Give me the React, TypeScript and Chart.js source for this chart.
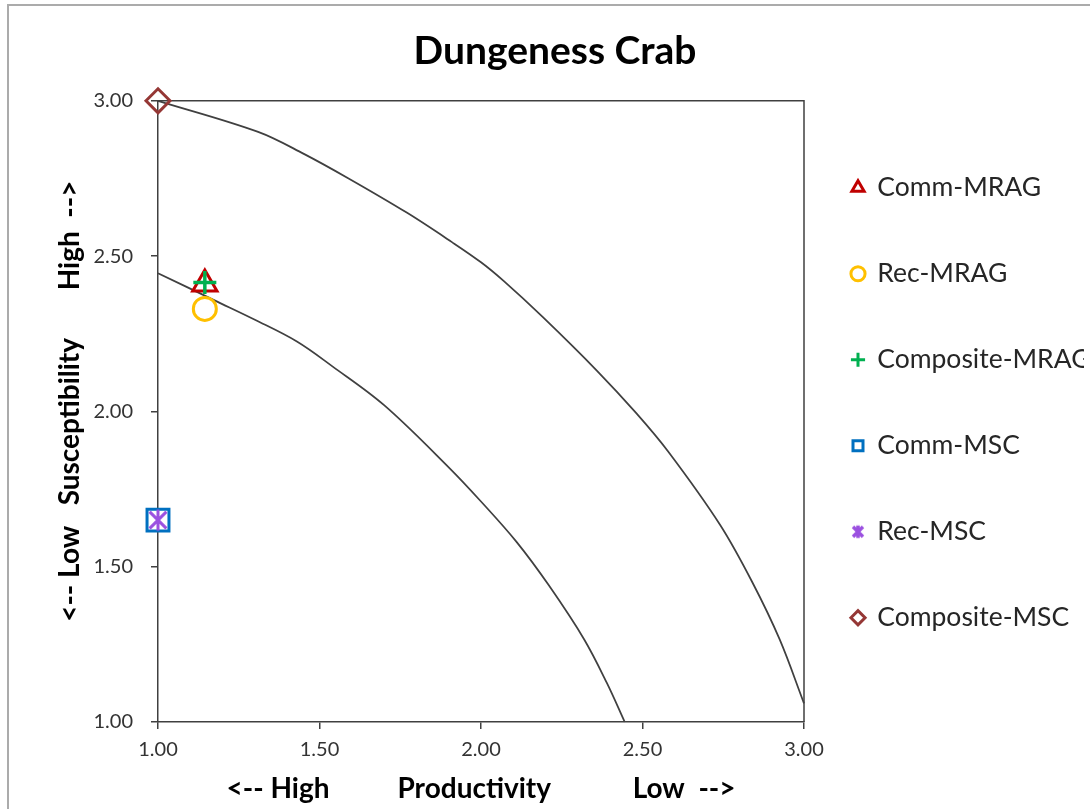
import React, { useEffect, useRef } from 'react';
import { Chart, registerables } from 'chart.js';

Chart.register(...registerables);

const chartTitle = 'Dungeness Crab';
const xAxisTitle = '<-- High' + ' '.repeat(10) + 'Productivity' + ' '.repeat(12) + 'Low  -->';
const yAxisTitle = '   <-- Low' + ' '.repeat(3) + 'Susceptibility' + ' '.repeat(7) + 'High  -->';

const seriesNames = ['Comm-MRAG', 'Rec-MRAG', 'Composite-MRAG', 'Comm-MSC', 'Rec-MSC', 'Composite-MSC'];
const seriesProductivity = [1.145, 1.145, 1.145, 1.0, 1.0, 1.0];
const seriesSusceptibility = [2.41, 2.33, 2.415, 1.65, 1.65, 3.0];
const seriesColors = ['#C00000', '#FFC000', '#00B050', '#0070C0', '#9B50E0', '#953735'];
const seriesMarkers = ['triangle', 'circle', 'cross', 'rect', 'asterisk', 'rectRot'];
const seriesMarkerRadius = [14, 11.5, 11.5, 15.5, 12, 12];
const seriesMarkerBorder = [3, 3, 3.5, 3, 3, 3];

const upperCurveProductivity = [1.0, 1.31, 1.45, 1.59, 1.77, 1.91, 2.0, 2.07, 2.19, 2.36, 2.48, 2.58, 2.74, 2.84, 2.925, 3.0];
const upperCurveSusceptibility = [3.0, 2.9, 2.83, 2.75, 2.64, 2.545, 2.48, 2.42, 2.305, 2.13, 1.995, 1.87, 1.635, 1.45, 1.265, 1.06];
const lowerCurveProductivity = [1.0, 1.18, 1.3, 1.43, 1.54, 1.7, 1.9, 2.0, 2.11, 2.21, 2.32, 2.39, 2.445];
const lowerCurveSusceptibility = [2.445, 2.355, 2.295, 2.225, 2.145, 2.02, 1.82, 1.71, 1.58, 1.44, 1.265, 1.125, 1.0];

const axisTickValues = [1.0, 1.5, 2.0, 2.5, 3.0];

const FONT = 'Lato, "Open Sans", sans-serif';
const CANVAS_W = 1100;
const CANVAS_H = 817;

function makeAsterisk(size: number, lw: number, color: string) {
  const c = document.createElement('canvas');
  c.width = size;
  c.height = size;
  const ctx = c.getContext('2d')!;
  ctx.strokeStyle = color;
  ctx.lineWidth = lw;
  const m = size / 2;
  const r = size / 2 - lw / 2;
  const d = r * 0.8;
  ctx.beginPath();
  ctx.moveTo(m - d, m - d);
  ctx.lineTo(m + d, m + d);
  ctx.moveTo(m + d, m - d);
  ctx.lineTo(m - d, m + d);
  ctx.moveTo(m, m - r);
  ctx.lineTo(m, m + r);
  ctx.stroke();
  return c;
}

const framePlugin = {
  id: 'plotFrame',
  beforeDatasetsDraw(chart: any) {
    const { ctx, chartArea: a } = chart;
    ctx.save();
    ctx.strokeStyle = '#404040';
    ctx.lineWidth = 1.5;
    ctx.beginPath();
    ctx.moveTo(a.left, a.top);
    ctx.lineTo(a.right, a.top);
    ctx.lineTo(a.right, a.bottom);
    ctx.stroke();
    ctx.restore();
  },
};

export default function App() {
  const ref = useRef<HTMLCanvasElement>(null);

  useEffect(() => {
    const canvas = ref.current!;
    const asteriskBig = makeAsterisk(24, 3, seriesColors[4]);
    const asteriskSmall = makeAsterisk(16, 3.5, seriesColors[4]);

    const markerDatasets = seriesNames.map((name, i) => ({
      label: name,
      data: [{ x: seriesProductivity[i], y: seriesSusceptibility[i] }],
      pointStyle: seriesMarkers[i] === 'asterisk' ? asteriskBig : seriesMarkers[i],
      pointRadius: seriesMarkerRadius[i],
      pointHoverRadius: seriesMarkerRadius[i],
      pointBorderWidth: seriesMarkerBorder[i],
      pointBorderColor: seriesColors[i],
      pointBackgroundColor: 'rgba(0,0,0,0)',
      borderColor: seriesColors[i],
      backgroundColor: 'rgba(0,0,0,0)',
      borderWidth: seriesMarkerBorder[i],
      showLine: false,
      clip: false,
      order: 10 - i,
    }));

    const curve = (xs: number[], ys: number[], label: string) => ({
      label,
      data: xs.map((x, k) => ({ x, y: ys[k] })),
      showLine: true,
      borderColor: '#404040',
      borderWidth: 1.75,
      pointRadius: 0,
      pointHoverRadius: 0,
      fill: false,
      tension: 0.35,
      clip: false,
      order: 20,
    });

    const chart = new Chart(canvas, {
      type: 'scatter',
      data: {
        datasets: [
          ...markerDatasets,
          curve(upperCurveProductivity, upperCurveSusceptibility, 'upper'),
          curve(lowerCurveProductivity, lowerCurveSusceptibility, 'lower'),
        ] as any,
      },
      options: {
        animation: false,
        responsive: false,
        devicePixelRatio: 1,
        events: [],
        layout: { padding: { left: 26, right: 16, top: 0, bottom: 0 } },
        plugins: {
          tooltip: { enabled: false },
          title: {
            display: true,
            text: chartTitle,
            color: '#000',
            font: { family: FONT, size: 39, weight: 'bold' },
            padding: { top: 28, bottom: 26 },
          },
          legend: {
            position: 'right',
            align: 'center',
            maxWidth: 280,
            labels: {
              usePointStyle: true,
              boxWidth: 12,
              boxHeight: 10,
              padding: 48,
              color: '#262626',
              font: { family: FONT, size: 26.5, lineHeight: '38px' },
              filter: (item: any) => item.datasetIndex < seriesNames.length,
              sort: (a: any, b: any) => a.datasetIndex - b.datasetIndex,
              generateLabels: (ch: any) => {
                const items = (Chart.defaults.plugins.legend.labels as any).generateLabels(ch);
                return items.map((it: any) => ({
                  ...it,
                  text: [it.text],
                  lineWidth: 3,
                  pointStyle: it.datasetIndex === 4 ? asteriskSmall : it.pointStyle,
                }));
              },
            },
          },
        },
        scales: {
          x: {
            type: 'linear',
            min: 1,
            max: 3,
            afterBuildTicks: (s: any) => {
              s.ticks = axisTickValues.map((v) => ({ value: v }));
            },
            afterFit: (s: any) => {
              s.height = 95;
            },
            ticks: {
              callback: (v: any) => Number(v).toFixed(2),
              color: '#333333',
              font: { family: FONT, size: 20 },
              padding: 9,
              maxRotation: 0,
              autoSkip: false,
            },
            grid: { display: true, drawOnChartArea: false, drawTicks: true, tickLength: 7, color: '#404040', lineWidth: 1.5 },
            border: { display: true, color: '#404040', width: 1.5 },
            title: {
              display: true,
              text: xAxisTitle,
              color: '#000',
              font: { family: FONT, size: 28, weight: 'bold' },
              padding: { top: 0, bottom: 11 },
            },
          },
          y: {
            type: 'linear',
            min: 1,
            max: 3,
            afterBuildTicks: (s: any) => {
              s.ticks = axisTickValues.map((v) => ({ value: v }));
            },
            afterFit: (s: any) => {
              s.width = 132;
            },
            ticks: {
              callback: (v: any) => Number(v).toFixed(2),
              color: '#333333',
              font: { family: FONT, size: 20 },
              padding: 18,
              autoSkip: false,
            },
            grid: { display: true, drawOnChartArea: false, drawTicks: true, tickLength: 7, color: '#404040', lineWidth: 1.5 },
            border: { display: true, color: '#404040', width: 1.5 },
            title: {
              display: true,
              text: yAxisTitle,
              color: '#000',
              font: { family: FONT, size: 28, weight: 'bold' },
              padding: { top: 27, bottom: 0 },
            },
          },
        },
      } as any,
      plugins: [framePlugin],
    });

    return () => chart.destroy();
  }, []);

  return (
    <div
      style={{
        position: 'fixed',
        left: 0,
        top: 0,
        width: 1090,
        height: 809,
        overflow: 'hidden',
        background: '#fff',
      }}
    >
      <div
        style={{
          position: 'absolute',
          left: 7,
          top: 4,
          width: 1300,
          height: 1000,
          border: '2px solid #ababab',
          boxSizing: 'border-box',
        }}
      />
      <canvas
        ref={ref}
        width={CANVAS_W}
        height={CANVAS_H}
        style={{ position: 'absolute', left: 0, top: 0, width: CANVAS_W, height: CANVAS_H }}
      />
    </div>
  );
}
